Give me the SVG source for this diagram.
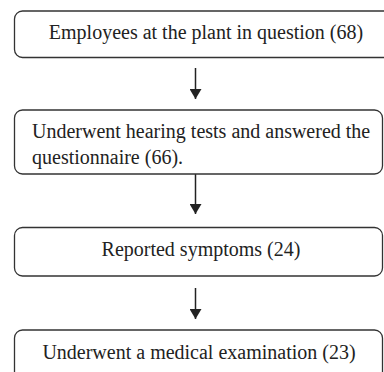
<svg xmlns="http://www.w3.org/2000/svg" width="384" height="372" viewBox="0 0 384 372">
<defs>
<style>
.box{fill:#fff;stroke:#333;stroke-width:1.3}
text{font-family:'Liberation Serif','Times New Roman',serif;font-size:20px;fill:#222}
.c{text-anchor:middle}
.ln{stroke:#222;stroke-width:1.5;fill:none}
</style>
<marker id="ah" viewBox="0 0 10 12" refX="10" refY="6" markerWidth="10" markerHeight="12" markerUnits="userSpaceOnUse" orient="auto">
<path d="M0,0 L10,6 L0,12 Z" fill="#222"/>
</marker>
</defs>
<rect width="384" height="372" fill="#fff"/>
<g id="connectors">
<line class="ln" x1="195.5" y1="68" x2="195.5" y2="99" marker-end="url(#ah)"/>
<line class="ln" x1="195.5" y1="174" x2="195.5" y2="214" marker-end="url(#ah)"/>
<line class="ln" x1="195.5" y1="288" x2="195.5" y2="319" marker-end="url(#ah)"/>
</g>
<g id="n1">
<rect class="box" x="14.5" y="11" width="380" height="46.5" rx="8"/>
<text class="c" x="206" y="39">Employees at the plant in question (68)</text>
</g>
<g id="n2">
<rect class="box" x="14.5" y="110" width="368" height="64" rx="8"/>
<text x="32" y="138">Underwent hearing tests and answered the</text>
<text x="32" y="164">questionnaire (66).</text>
</g>
<g id="n3">
<rect class="box" x="14.5" y="227.5" width="368" height="48.5" rx="8"/>
<text class="c" x="201" y="256">Reported symptoms (24)</text>
</g>
<g id="n4">
<rect class="box" x="14.5" y="330" width="368" height="60" rx="8"/>
<text class="c" x="199" y="359">Underwent a medical examination (23)</text>
</g>
</svg>
